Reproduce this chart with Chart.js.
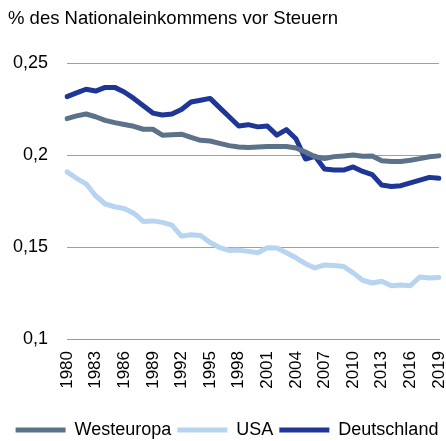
<!DOCTYPE html>
<html>
<head>
<meta charset="utf-8">
<script src="https://cdn.jsdelivr.net/npm/chart.js@4"></script>
<style>
  html, body { margin: 0; padding: 0; background: #fff; }
  #wrap { width: 446px; height: 441px; }
</style>
</head>
<body>
<div id="wrap"><canvas id="shareChart" width="446" height="441"></canvas></div>
<script>
const years = [];
for (let y = 1980; y <= 2019; y++) years.push(String(y));

const yTicks = [0.1, 0.15, 0.2, 0.25];

const westeuropa = [
  0.2200, 0.2215, 0.2225, 0.2210, 0.2190, 0.2178, 0.2168, 0.2158, 0.2142, 0.2142,
  0.2110, 0.2112, 0.2115, 0.2098, 0.2082, 0.2078, 0.2065, 0.2053, 0.2045, 0.2042,
  0.2045, 0.2048, 0.2048, 0.2048, 0.2040, 0.2018, 0.1992, 0.1983, 0.1993, 0.1997,
  0.2002, 0.1995, 0.1996, 0.1970, 0.1966, 0.1967, 0.1973, 0.1982, 0.1992, 0.1997
];
const usa = [
  0.1910, 0.1875, 0.1845, 0.1780, 0.1735, 0.1720, 0.1710, 0.1685, 0.1640, 0.1643,
  0.1635, 0.1620, 0.1560, 0.1568, 0.1563, 0.1525, 0.1498, 0.1482, 0.1484, 0.1477,
  0.1470, 0.1497, 0.1495, 0.1470, 0.1442, 0.1410, 0.1387, 0.1403, 0.1400, 0.1395,
  0.1360, 0.1320, 0.1305, 0.1314, 0.1290, 0.1294, 0.1290, 0.1338, 0.1332, 0.1335
];
const deutschland = [
  0.2320, 0.2340, 0.2360, 0.2350, 0.2370, 0.2370, 0.2345, 0.2310, 0.2270, 0.2230,
  0.2220, 0.2225, 0.2250, 0.2290, 0.2300, 0.2310, 0.2260, 0.2210, 0.2160, 0.2167,
  0.2155, 0.2160, 0.2110, 0.2140, 0.2090, 0.1980, 0.1995, 0.1925, 0.1920, 0.1920,
  0.1937, 0.1912, 0.1895, 0.1838, 0.1830, 0.1835, 0.1850, 0.1865, 0.1880, 0.1875
];

const seriesNames = ['Westeuropa', 'USA', 'Deutschland'];
const colors = ['#5c7288', '#b7d4f0', '#1f3696'];
const font = 'Arial, "Liberation Sans", sans-serif';

function lineSet(label, data, color) {
  return {
    label: label,
    data: data,
    borderColor: color,
    backgroundColor: color,
    borderWidth: 5,
    borderCapStyle: 'round',
    borderJoinStyle: 'round',
    pointRadius: 0,
    tension: 0
  };
}

const ctx = document.getElementById('shareChart').getContext('2d');

let chart = new Chart(ctx, {
  type: 'line',
  data: {
    labels: years,
    datasets: [
      lineSet(seriesNames[0], westeuropa, colors[0]),
      lineSet(seriesNames[1], usa, colors[1]),
      lineSet(seriesNames[2], deutschland, colors[2])
    ]
  },
  options: {
    responsive: false,
    animation: false,
    layout: { padding: { left: 8, right: 0, top: 0, bottom: -8 } },
    scales: {
      x: {
        offset: false,
        grid: { display: false, drawTicks: false },
        // bottom line at 0,1 comes from the x axis border
        border: { display: true, color: '#999999', width: 1 },
        afterFit: function (scale) {
          scale.paddingRight = 7;
          scale.height = 76;
        },
        ticks: {
          autoSkip: false,
          minRotation: 90,
          maxRotation: 90,
          padding: 12,
          color: '#000',
          font: { family: font, size: 17 },
          callback: function (val, i) {
            return i % 3 === 0 ? years[i] : '';
          }
        }
      },
      y: {
        min: 0.1,
        max: 0.25,
        afterBuildTicks: function (scale) {
          scale.ticks = yTicks.map(v => ({ value: v }));
        },
        afterFit: function (scale) { scale.width = 59; },
        grid: { color: '#a0a0a0', lineWidth: 1, drawTicks: false },
        border: { display: false },
        ticks: {
          padding: 19,
          color: '#000',
          font: { family: font, size: 18 },
          callback: function (v) {
            return String(Math.round(v * 100) / 100).replace('.', ',');
          }
        }
      }
    },
    plugins: {
      title: {
        display: true,
        text: '% des Nationaleinkommens vor Steuern',
        align: 'start',
        color: '#000',
        font: { family: font, size: 18.5, weight: 'normal', lineHeight: 1 },
        padding: { top: 10, bottom: 35 }
      },
      legend: {
        position: 'bottom',
        labels: {
          color: '#000',
          font: { family: font, size: 18 },
          boxWidth: 50,
          boxHeight: 5,
          padding: 6,
          generateLabels: function (c) {
            const items = Chart.defaults.plugins.legend.labels.generateLabels(c);
            items.forEach(it => { it.lineWidth = 0; });
            return items;
          }
        }
      },
      tooltip: { enabled: false }
    }
  }
});
</script>
</body>
</html>
